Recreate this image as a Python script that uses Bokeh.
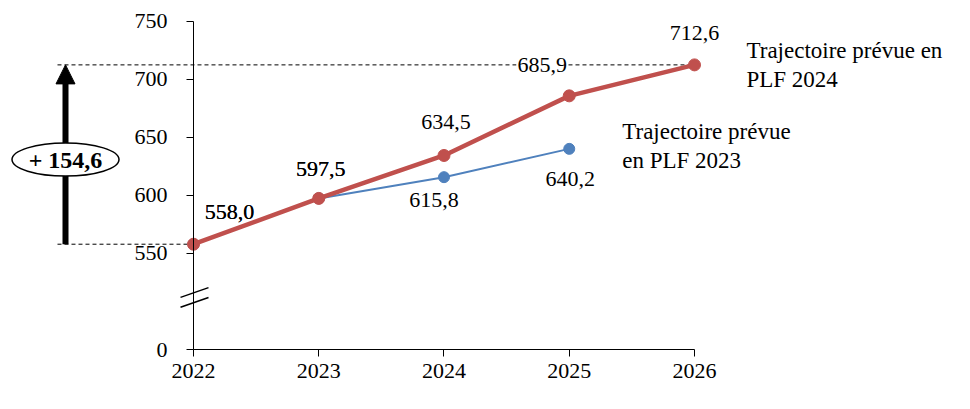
from bokeh.plotting import figure
from bokeh.models import LinearAxis, FixedTicker, Range1d, Label, Arrow, NormalHead
from bokeh.embed import file_html
from bokeh.resources import INLINE

# ---- data ----
years = [2022, 2023, 2024, 2025, 2026]
plf2024 = [558.0, 597.5, 634.5, 685.9, 712.6]
years_plf2023 = [2022, 2023, 2024, 2025]
plf2023 = [558.0, 597.5, 615.8, 640.2]
y_ticks = [550, 600, 650, 700, 750]
zero_tick_label = "0"
name_plf2024 = ["Trajectoire prévue en", "PLF 2024"]
name_plf2023 = ["Trajectoire prévue", "en PLF 2023"]

# ---- layout / style constants ----
FONT = "Liberation Serif"
FS = "22px"
FS_NAME = "23px"
RED = "#C0504D"
BLUE = "#4F81BD"
ZERO_POS = 467          # where 0 sits on the broken axis
X0, X1 = 2020.459, 2028.076
Y0, Y1 = 429.3, 768.1
ANNOT_X = 2020.978      # x of the growth arrow
DASH_X0 = 2020.914      # start of the dashed reference lines
ELLIPSE_Y = 631

# label offsets in screen px (dx, dy up)
off_2024 = [(36, 32), (2, 29), (2, 33), (-27, 31), (0, 32)]
bg_2024 = [False, False, False, True, False]
off_2023 = [(36, 32), (2, 29), (-10, -23), (1, -30)]


def fmt(v):
    return f"{v:.1f}".replace(".", ",")


p = figure(width=954, height=393, x_range=Range1d(X0, X1), y_range=Range1d(Y0, Y1),
           x_axis_location=None, y_axis_location=None, toolbar_location=None,
           output_backend="svg", min_border=0)
p.grid.visible = False
p.outline_line_color = None
p.background_fill_color = "white"
p.border_fill_color = "white"

yaxis = LinearAxis(fixed_location=years[0], bounds=(ZERO_POS, y_ticks[-1]),
                   ticker=FixedTicker(ticks=[ZERO_POS] + y_ticks),
                   major_label_overrides={ZERO_POS: zero_tick_label})
xaxis = LinearAxis(fixed_location=ZERO_POS, bounds=(years[0], years[-1]),
                   ticker=FixedTicker(ticks=years))
for ax in (yaxis, xaxis):
    ax.major_tick_in = 0
    ax.major_tick_out = 7
    ax.minor_tick_in = 0
    ax.minor_tick_out = 0
    ax.axis_line_color = "black"
    ax.major_tick_line_color = "black"
    ax.major_label_text_font = FONT
    ax.major_label_text_font_size = FS
    ax.major_label_text_color = "black"
yaxis.major_label_standoff = 19
xaxis.major_label_standoff = 7
p.add_layout(yaxis, "left")
p.add_layout(xaxis, "below")

# axis break marks
px_per_year = 954 / (X1 - X0)
bx0 = years[0] - 13 / px_per_year
bx1 = years[0] + 15 / px_per_year
p.segment(x0=[bx0, bx0], y0=[512.2, 503.6], x1=[bx1, bx1], y1=[520.6, 512.0],
          line_color="black", line_width=1.5)

# dashed reference lines
p.segment(x0=[DASH_X0, DASH_X0], y0=[plf2024[0], plf2024[-1]],
          x1=[years[0], years[-1]], y1=[plf2024[0], plf2024[-1]],
          line_color="black", line_width=1, line_dash="4 3")

# growth arrow
arrow = Arrow(end=NormalHead(size=19, fill_color="black", line_color="black"),
              x_start=ANNOT_X, y_start=plf2024[0], x_end=ANNOT_X, y_end=plf2024[-1],
              line_width=6, line_color="black", level="underlay")
p.add_layout(arrow)
p.ellipse(x=[ANNOT_X], y=[ELLIPSE_Y], width=107, height=33,
          width_units="screen", height_units="screen",
          fill_color="white", line_color="black", line_width=1.5)
p.add_layout(Label(x=ANNOT_X, y=ELLIPSE_Y, text="+ " + fmt(plf2024[-1] - plf2024[0]),
                   text_font=FONT, text_font_size="24px", text_font_style="bold",
                   text_align="center", text_baseline="middle", text_color="black"))

# series
p.line(years_plf2023, plf2023, line_color=BLUE, line_width=2)
p.scatter(years_plf2023, plf2023, size=11, fill_color=BLUE, line_color=BLUE)
p.line(years, plf2024, line_color=RED, line_width=4.5)
p.scatter(years, plf2024, size=12, fill_color=RED, line_color=RED)

# data labels
for xs, vals, offs, bgs in ((years_plf2023, plf2023, off_2023, [False] * 4),
                            (years, plf2024, off_2024, bg_2024)):
    for x, v, (dx, dy), bg in zip(xs, vals, offs, bgs):
        kw = dict(background_fill_color="white", padding=1) if bg else {}
        p.add_layout(Label(x=x, y=v, x_offset=dx, y_offset=dy, text=fmt(v),
                           text_font=FONT, text_font_size=FS, text_color="black",
                           text_align="center", text_baseline="middle", **kw))

# series names
for i, line in enumerate(name_plf2024):
    p.add_layout(Label(x=years[-1], y=plf2024[-1], x_offset=52, y_offset=14 - 29 * i,
                       text=line, text_font=FONT, text_font_size=FS_NAME, text_color="black",
                       text_align="left", text_baseline="middle"))
for i, line in enumerate(name_plf2023):
    p.add_layout(Label(x=years_plf2023[-1], y=plf2023[-1], x_offset=53, y_offset=17 - 29 * i,
                       text=line, text_font=FONT, text_font_size=FS_NAME, text_color="black",
                       text_align="left", text_baseline="middle"))

open("out.html", "w").write(file_html(p, INLINE))
